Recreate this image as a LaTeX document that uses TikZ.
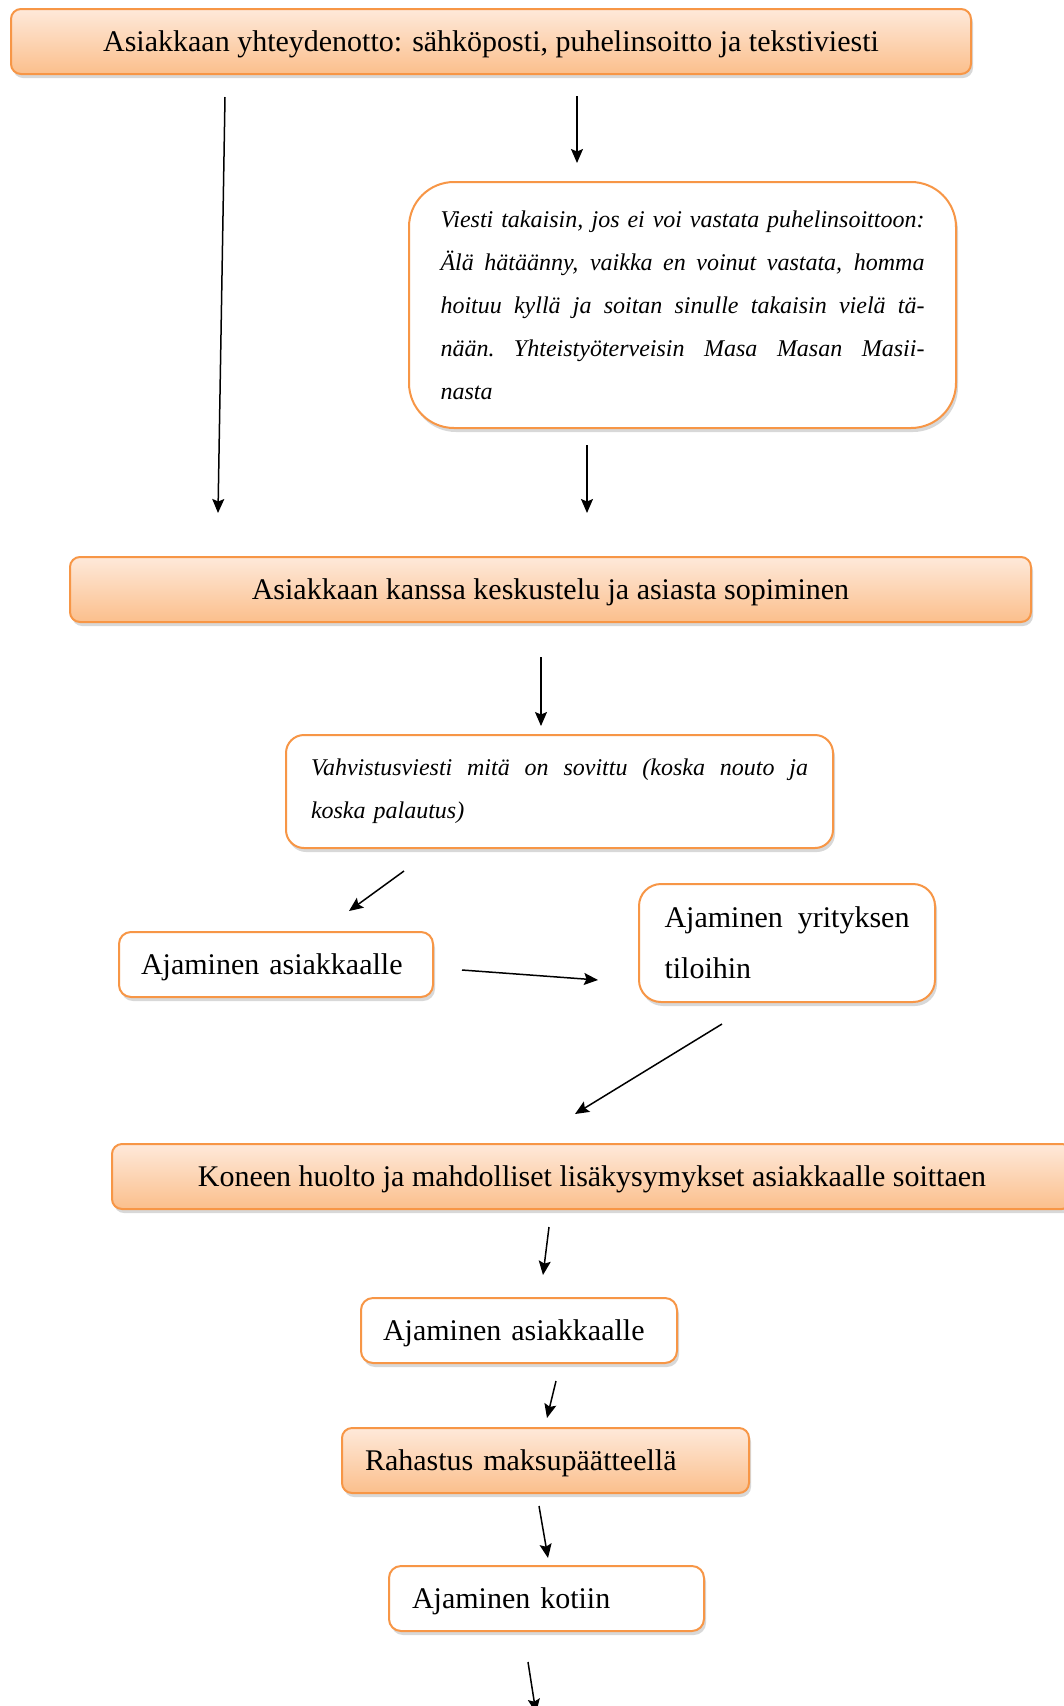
\documentclass[tikz,border=0pt]{standalone}
\usepackage{fontspec}
\setmainfont{Liberation Serif}
\usetikzlibrary{shadows,arrows.meta}
\definecolor{orline}{HTML}{F79646}
\definecolor{ortop}{HTML}{FEE9DA}
\definecolor{orbot}{HTML}{FBBF8C}
\newcommand{\jline}[2]{\leavevmode\hbox to #1{\spaceskip=0.25em plus 1fil minus 0.09em\relax\xspaceskip=\spaceskip #2}}
\tikzset{
  shad/.style={drop shadow={opacity=0.3, shadow xshift=2pt, shadow yshift=-4pt}},
  obox/.style={draw=orline, line width=2pt, rounded corners=10pt, top color=ortop, bottom color=orbot, shad, inner sep=0pt, text depth=0pt, font=\fontsize{30}{36}\selectfont},
  wbox/.style={draw=orline, line width=2pt, fill=white, shad, inner ysep=0pt, inner xsep=22pt, align=left, font=\fontsize{30}{36}\selectfont},
  wboxone/.style={wbox, rounded corners=12pt, minimum height=65pt, text depth=0pt},
  ibox/.style={draw=orline, line width=2pt, fill=white, shad, inner ysep=0pt, align=left, font=\fontsize{24}{43}\selectfont\itshape},
  arr/.style={-{Stealth[length=14pt,width=12pt,inset=2.5pt]}, line width=1.5pt},
}
\begin{document}
\begin{tikzpicture}[x=1pt,y=-1pt]
\useasboundingbox (0,0) rectangle (1064,1706);
\clip (0,0) rectangle (1064,1706);
\fill[white] (0,0) rectangle (1064,1706);

\node[obox, minimum width=960pt, minimum height=65pt] (b1) at (491,41.5)
  {Asiakkaan yhteydenotto: sähköposti, puhelinsoitto ja tekstiviesti};

\node[ibox, rounded corners=45pt, text width=484pt, inner xsep=31.5pt, minimum height=246pt] (b2) at (682.5,305)
  {\jline{484pt}{Viesti takaisin, jos ei voi vastata puhelinsoittoon:}\\
   \jline{484pt}{Älä hätäänny, vaikka en voinut vastata, homma}\\
   \jline{484pt}{hoituu kyllä ja soitan sinulle takaisin vielä tä-}\\
   \jline{484pt}{nään. Yhteistyöterveisin Masa Masan Masii-}\\
   nasta};

\node[obox, minimum width=961pt, minimum height=65pt] (b3) at (550.5,589.5)
  {Asiakkaan kanssa keskustelu ja asiasta sopiminen};

\node[ibox, rounded corners=18pt, text width=497pt, inner xsep=25pt, minimum height=113pt] (b4) at (559.5,791.5)
  {\jline{497pt}{Vahvistusviesti mitä on sovittu (koska nouto ja}\\
   koska palautus)};

\node[wboxone, text width=270pt] (b5) at (276,964.5)
  {Ajaminen asiakkaalle};

\node[wbox, rounded corners=22pt, text width=245pt, inner xsep=25.5pt, minimum height=118pt, font=\fontsize{30}{51}\selectfont] (b6) at (787,943)
  {\jline{245pt}{Ajaminen yrityksen}\\ tiloihin};

\node[obox, minimum width=960pt, minimum height=65pt] (b7) at (592,1176.5)
  {Koneen huolto ja mahdolliset lisäkysymykset asiakkaalle soittaen};

\node[wboxone, text width=272pt] (b8) at (519,1330.5)
  {Ajaminen asiakkaalle};

\node[obox, align=left, inner xsep=23pt, text width=361pt, minimum height=65pt] (b9) at (545.5,1460.5)
  {Rahastus maksupäätteellä};

\node[wboxone, text width=269pt, inner xsep=23pt] (b10) at (546.5,1598.5)
  {Ajaminen kotiin};

% arrow end points
\coordinate (a1s) at (225,97);   \coordinate (a1e) at (218,513);
\coordinate (a2s) at (577,96);   \coordinate (a2e) at (577,163);
\coordinate (a3s) at (587,445);  \coordinate (a3e) at (587,513);
\coordinate (a4s) at (541,657);  \coordinate (a4e) at (541,726);
\coordinate (a5s) at (404,871);  \coordinate (a5e) at (349,911);
\coordinate (a6s) at (462,970);  \coordinate (a6e) at (598,980);
\coordinate (a7s) at (722,1024); \coordinate (a7e) at (575,1114);
\coordinate (a8s) at (549,1227); \coordinate (a8e) at (543,1275);
\coordinate (a9s) at (556,1381); \coordinate (a9e) at (547,1418);
\coordinate (a10s) at (539,1506); \coordinate (a10e) at (548,1558);
\coordinate (a11s) at (528,1662); \coordinate (a11e) at (536,1713);

\draw[arr] (a1s) -- (a1e);
\draw[arr] (a2s) -- (a2e);
\draw[arr] (a3s) -- (a3e);
\draw[arr] (a4s) -- (a4e);
\draw[arr] (a5s) -- (a5e);
\draw[arr] (a6s) -- (a6e);
\draw[arr] (a7s) -- (a7e);
\draw[arr] (a8s) -- (a8e);
\draw[arr] (a9s) -- (a9e);
\draw[arr] (a10s) -- (a10e);
\draw[arr] (a11s) -- (a11e);
\end{tikzpicture}
\end{document}
